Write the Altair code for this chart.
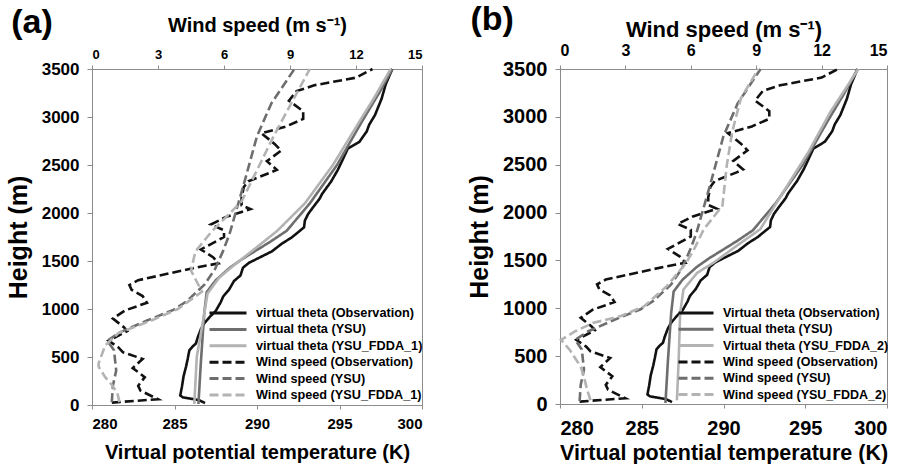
import altair as alt
import pandas as pd

FONT = "Liberation Sans"
BLACK = "#111111"
DARK = "#6e6e6e"
LIGHT = "#b3b3b3"
AXC = "#8c8c8c"

# ---------------- data ----------------
obs_theta_h = [20, 50, 80, 100, 190, 300, 400, 480, 570, 610, 640, 700, 790, 850, 920, 980,
               1070, 1130, 1200, 1290, 1350, 1430, 1480, 1540, 1600, 1680, 1745, 1815, 1850,
               1920, 1990, 2060, 2150, 2200, 2330, 2450, 2540, 2670, 2740, 2850, 2920, 3020,
               3190, 3340, 3420, 3500]
obs_theta_v = [286.85, 286.5, 285.5, 285.35, 285.45, 285.55, 285.7, 285.8, 285.9, 286.1, 286.3,
               286.4, 286.6, 286.8, 287.15, 287.5, 287.8, 287.95, 288.3, 288.6, 289.0, 289.15,
               289.5, 290.2, 290.9, 291.5, 292.1, 292.6, 292.85, 292.9, 293.1, 293.4, 293.8,
               293.95, 294.5, 294.9, 295.15, 295.5, 296.2, 296.65, 296.8, 297.15, 297.55, 297.8,
               298.0, 298.2]

ysu_theta_h = [10, 450, 950, 1175, 1300, 1430, 1520, 1610, 1700, 1815, 2100, 2500, 2950, 3250, 3500]
ysu_theta_v = [286.45, 286.6, 286.8, 286.95, 287.5, 288.35, 289.1, 289.95, 290.8, 291.8, 293.2,
               294.85, 296.35, 297.4, 298.2]

fdda1_theta_h = [10, 500, 950, 1160, 1325, 1470, 1605, 1810, 2100, 2500, 2950, 3200, 3500]
fdda1_theta_v = [286.2, 286.35, 286.8, 287.0, 287.7, 288.7, 289.7, 291.2, 292.9, 294.6, 296.2,
                 297.1, 298.1]

fdda2_theta_h = [39, 425, 951, 1196, 1372, 1477, 1652, 1827, 2213, 2634, 3055, 3500]
fdda2_theta_v = [287.15, 287.25, 287.35, 287.55, 288.4, 289.4, 290.8, 292.25, 293.65, 295.2,
                 296.55, 298.25]

obs_wind_h = [25, 60, 150, 200, 290, 385, 480, 550, 600, 670, 770, 810, 900, 985, 1065, 1135,
              1200, 1250, 1300, 1390, 1435, 1475, 1540, 1620, 1750, 1820, 1880, 1960, 2040,
              2080, 2160, 2270, 2330, 2420, 2450, 2540, 2650, 2720, 2830, 2900, 2980, 3060,
              3170, 3270, 3330, 3410, 3500]
obs_wind_v = [0.9, 3.0, 2.2, 2.1, 2.4, 1.85, 2.3, 1.4, 1.2, 0.75, 1.6, 1.45, 0.95, 1.5, 2.5, 2.3,
              1.8, 1.7, 2.1, 3.9, 4.8, 5.75, 5.5, 4.95, 6.0, 6.0, 5.4, 6.1, 7.2, 6.8, 6.8, 6.9,
              7.1, 8.1, 8.4, 7.95, 8.6, 8.3, 7.7, 8.8, 9.6, 9.6, 8.95, 9.3, 10.1, 12.0, 12.75]

ysu_wind_h = [30, 200, 360, 570, 670, 760, 880, 990, 1080, 1250, 1420, 1600, 1780, 2300, 2800, 3140, 3500]
ysu_wind_v = [0.9, 0.95, 1.1, 1.0, 0.7, 1.3, 2.5, 3.7, 4.3, 5.1, 5.6, 5.95, 6.25, 6.9, 7.5, 8.15, 9.2]

fdda1_wind_h = [30, 125, 210, 290, 400, 435, 620, 750, 880, 1000, 1180, 1400, 1600, 1810, 2120, 2820, 3500]
fdda1_wind_v = [1.25, 1.15, 0.9, 0.6, 0.3, 0.3, 0.6, 1.2, 2.7, 3.9, 5.0, 4.5, 4.7, 5.45, 6.8, 8.3, 9.9]

fdda2_wind_h = [39, 144, 284, 389, 565, 670, 760, 846, 920, 1020, 1231, 1477, 1617, 1827, 2072,
                2493, 2845, 3195, 3500]
fdda2_wind_v = [1.4, 1.25, 1.1, 0.95, 0.45, 0.05, 0.7, 1.5, 2.8, 3.85, 4.9, 5.8, 6.15, 6.6, 7.45,
                7.65, 7.9, 8.3, 9.1]

names_a = ["virtual theta (Observation)", "virtual theta (YSU)", "virtual theta (YSU_FDDA_1)",
           "Wind speed (Observation)", "Wind speed (YSU)", "Wind speed (YSU_FDDA_1)"]
names_b = ["Virtual theta (Observation)", "Virtual theta (YSU)", "Virtual theta (YSU_FDDA_2)",
           "Wind speed (Observation)", "Wind speed (YSU)", "Wind speed (YSU_FDDA_2)"]

temp_ticks = [280, 285, 290, 295, 300]
wind_ticks = [0, 3, 6, 9, 12, 15]
height_ticks = [0, 500, 1000, 1500, 2000, 2500, 3000, 3500]


def frame(pairs, col):
    rows = []
    for name, hs, vs in pairs:
        for h, v in zip(hs, vs):
            rows.append({"series": name, "h": h, col: v})
    return pd.DataFrame(rows)


def panel(names, fdda_theta, fdda_wind, label, w, h, fs, leg):
    theta_df = frame([(names[0], obs_theta_h, obs_theta_v),
                      (names[1], ysu_theta_h, ysu_theta_v),
                      (names[2], fdda_theta[0], fdda_theta[1])], "T")
    wind_df = frame([(names[3], obs_wind_h, obs_wind_v),
                     (names[4], ysu_wind_h, ysu_wind_v),
                     (names[5], fdda_wind[0], fdda_wind[1])], "W")
    cscale = alt.Scale(domain=names, range=[BLACK, DARK, LIGHT, BLACK, DARK, LIGHT])
    dscale = alt.Scale(domain=names, range=[[1, 0], [1, 0], [1, 0], [9, 4], [9, 4], [9, 4]])
    legend = alt.Legend(title=None, orient="none", legendX=leg[0], legendY=leg[1],
                        symbolType="stroke", symbolSize=leg[2] ** 2, symbolStrokeWidth=3,
                        labelFont=FONT, labelFontSize=fs["legend"], labelFontWeight="bold",
                        labelColor="black", labelOffset=8, rowPadding=leg[3], padding=0,
                        clipHeight=14, labelLimit=400)
    yscale = alt.Scale(domain=[0, 3500], nice=False)
    yaxis = alt.Axis(values=height_ticks, title="Height (m)", titleFontSize=25, format="d",
                     labelFontSize=fs["ylab"], tickSize=5, labelPadding=8, titlePadding=10)
    theta = alt.Chart(theta_df).mark_line(strokeWidth=2.6).encode(
        x=alt.X("T:Q", scale=alt.Scale(domain=[280, 300], nice=False, zero=False),
                axis=alt.Axis(orient="bottom", values=temp_ticks, format="d",
                              title="Virtual potential temperature (K)",
                              titleFontSize=fs["xtitle"], labelFontSize=fs["xlab"],
                              tickSize=4, labelPadding=fs["xpad"], titlePadding=fs["xtp"])),
        y=alt.Y("h:Q", scale=yscale, axis=yaxis),
        color=alt.Color("series:N", scale=cscale, legend=legend),
        strokeDash=alt.StrokeDash("series:N", scale=dscale, legend=legend),
        order=alt.Order("h:Q"),
    )
    wind = alt.Chart(wind_df).mark_line(strokeWidth=2.6).encode(
        x=alt.X("W:Q", scale=alt.Scale(domain=[0, 15], nice=False),
                axis=alt.Axis(orient="top", values=wind_ticks, title="Wind speed (m s⁻¹)",
                              titleFontSize=fs["ttitle"], labelFontSize=fs["tlab"], format="d",
                              tickSize=4, labelPadding=fs["tpad"], titlePadding=fs["ttp"])),
        y=alt.Y("h:Q", scale=yscale, axis=yaxis),
        color=alt.Color("series:N", scale=cscale, legend=legend),
        strokeDash=alt.StrokeDash("series:N", scale=dscale, legend=legend),
        order=alt.Order("h:Q"),
    )
    return alt.layer(theta, wind).resolve_scale(x="independent").properties(
        width=w, height=h,
        title=alt.TitleParams(label, anchor="start", frame="bounds", fontSize=34,
                              fontWeight="bold", font=FONT, color="black",
                              offset=fs["toff"], dx=fs["tdx"]),
    )


pa = panel(names_a, (fdda1_theta_h, fdda1_theta_v), (fdda1_wind_h, fdda1_wind_v), "(a)",
           330, 336,
           {"legend": 12.7, "ylab": 17, "xlab": 15, "xtitle": 20, "ttitle": 20, "tlab": 13,
            "xpad": 7, "xtp": 11, "tpad": 4, "ttp": 13, "toff": -25, "tdx": 5},
           (116, 237, 37, 2.4))
pb = panel(names_b, (fdda2_theta_h, fdda2_theta_v), (fdda2_wind_h, fdda2_wind_v), "(b)",
           327, 335,
           {"legend": 12.5, "ylab": 20, "xlab": 20, "xtitle": 21.5, "ttitle": 22, "tlab": 16,
            "xpad": 10, "xtp": 4, "tpad": 7, "ttp": 1, "toff": -19, "tdx": 3},
           (117, 237, 35, 2.3))

chart = alt.hconcat(pa, pb, spacing=43).resolve_scale(
    color="independent", strokeDash="independent"
).resolve_legend(color="independent", strokeDash="independent").properties(
    padding={"left": 5, "top": 2, "right": 0, "bottom": 0}
).configure(font=FONT).configure_view(stroke=AXC, strokeWidth=1).configure_axis(
    grid=False, domainColor=AXC, tickColor=AXC, labelColor="black", titleColor="black",
    labelFont=FONT, titleFont=FONT, labelFontWeight="bold", titleFontWeight="bold",
)

chart.save("out.html", embed_options={"renderer": "svg", "actions": False})
